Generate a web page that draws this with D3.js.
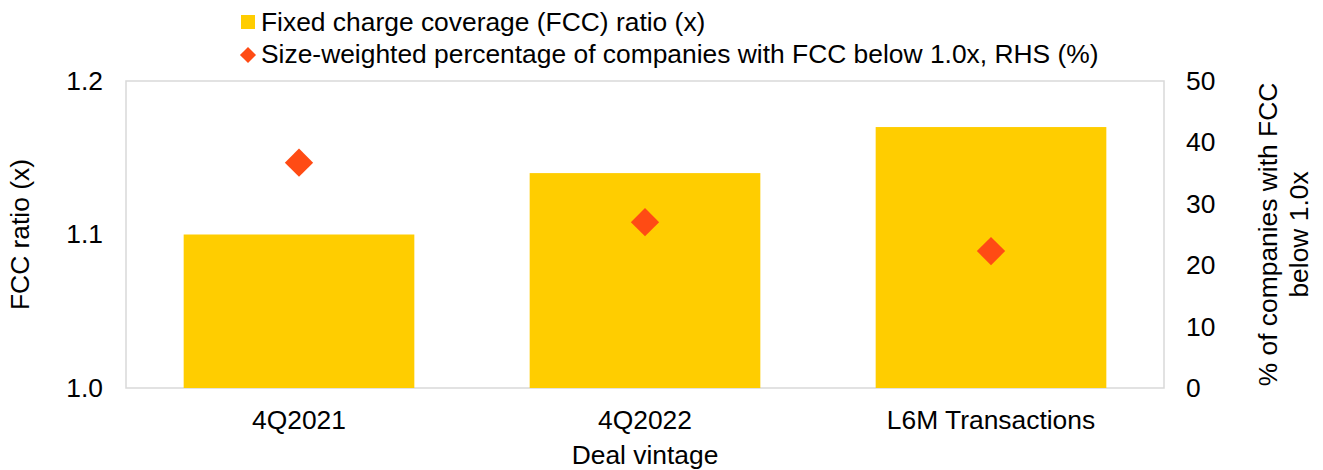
<!DOCTYPE html>
<html>
<head>
<meta charset="utf-8">
<script src="https://cdn.jsdelivr.net/npm/d3@7"></script>
<style>
  body { margin: 0; background: #fff; }
  text { font-family: "Liberation Sans", Arial, sans-serif; fill: #000; }
</style>
</head>
<body>
<div id="chart"></div>
<script>
const categories = ["4Q2021", "4Q2022", "L6M Transactions"];
const fccRatio = [1.10, 1.14, 1.17];
const pctBelow = [36.7, 27.0, 22.3];
const leftTicks = [1.0, 1.1, 1.2];
const rightTicks = [0, 10, 20, 30, 40, 50];
const legendLabels = [
    "Fixed charge coverage (FCC) ratio (x)",
    "Size-weighted percentage of companies with FCC below 1.0x, RHS (%)"
];

const width = 1323, height = 470;
const margin = { top: 81, right: 159, bottom: 82, left: 126 };
const innerW = width - margin.left - margin.right;
const innerH = height - margin.top - margin.bottom;
const fontSize = "26.4px";

const barColor = "#FFCD00";
const markColor = "#FF4B14";

const svg = d3.select("#chart")
    .append("svg")
    .attr("width", width)
    .attr("height", height);

const g = svg.append("g")
    .attr("transform", `translate(${margin.left},${margin.top})`);

const xScale = d3.scaleBand()
    .domain(categories)
    .range([0, innerW])
    .paddingInner(1 / 3)
    .paddingOuter(1 / 6);

const yLeft = d3.scaleLinear().domain([1.0, 1.2]).range([innerH, 0]);
const yRight = d3.scaleLinear().domain([0, 50]).range([innerH, 0]);

// plot frame
g.append("rect")
    .attr("width", innerW)
    .attr("height", innerH)
    .attr("fill", "none")
    .attr("stroke", "#d9d9d9")
    .attr("stroke-width", 1.5);

// bars
g.selectAll(".bar")
    .data(categories)
    .enter()
    .append("rect")
    .attr("class", "bar")
    .attr("x", d => xScale(d))
    .attr("y", (d, i) => yLeft(fccRatio[i]))
    .attr("width", xScale.bandwidth())
    .attr("height", (d, i) => innerH - yLeft(fccRatio[i]))
    .attr("fill", barColor);

// diamonds
const diamond = d3.symbol().type(d3.symbolSquare).size(400);
g.selectAll(".mark")
    .data(categories)
    .enter()
    .append("path")
    .attr("class", "mark")
    .attr("d", diamond)
    .attr("transform", (d, i) => `translate(${xScale(d) + xScale.bandwidth() / 2},${yRight(pctBelow[i])}) rotate(45)`)
    .attr("fill", markColor);

// left axis
const leftAxis = g.append("g")
    .call(d3.axisLeft(yLeft).tickValues(leftTicks).tickFormat(d3.format(".1f")).tickSize(0).tickPadding(23));
leftAxis.select(".domain").remove();
leftAxis.selectAll("text").style("font-size", fontSize);

// right axis
const rightAxis = g.append("g")
    .attr("transform", `translate(${innerW},0)`)
    .call(d3.axisRight(yRight).tickValues(rightTicks).tickSize(0).tickPadding(22));
rightAxis.select(".domain").remove();
rightAxis.selectAll("text").style("font-size", fontSize);

// bottom axis
const bottomAxis = g.append("g")
    .attr("transform", `translate(0,${innerH})`)
    .call(d3.axisBottom(xScale).tickSize(0).tickPadding(22));
bottomAxis.select(".domain").remove();
bottomAxis.selectAll("text").style("font-size", fontSize);

// axis titles
g.append("text")
    .attr("x", innerW / 2)
    .attr("y", innerH + 76)
    .attr("text-anchor", "middle")
    .style("font-size", fontSize)
    .text("Deal vintage");

g.append("text")
    .attr("transform", `translate(${29 - margin.left},${innerH / 2}) rotate(-90)`)
    .attr("text-anchor", "middle")
    .style("font-size", fontSize)
    .text("FCC ratio (x)");

const rightTitle = g.append("text")
    .attr("transform", `translate(${1277 - margin.left},${innerH / 2}) rotate(-90)`)
    .attr("text-anchor", "middle")
    .style("font-size", fontSize);
rightTitle.append("tspan").attr("x", 0).attr("y", 0).text("% of companies with FCC");
rightTitle.append("tspan").attr("x", 0).attr("y", 31).text("below 1.0x");

// legend
const legend = svg.append("g").attr("transform", "translate(248,0)");
legend.append("rect")
    .attr("x", -7).attr("y", 15)
    .attr("width", 14).attr("height", 14)
    .attr("fill", barColor);
legend.append("path")
    .attr("d", d3.symbol().type(d3.symbolSquare).size(130))
    .attr("transform", "translate(0,55) rotate(45)")
    .attr("fill", markColor);
legend.selectAll(".leg-text")
    .data(legendLabels)
    .enter()
    .append("text")
    .attr("class", "leg-text")
    .attr("x", 13)
    .attr("y", (d, i) => 31 + i * 32)
    .style("font-size", fontSize)
    .text(d => d);
</script>
</body>
</html>
